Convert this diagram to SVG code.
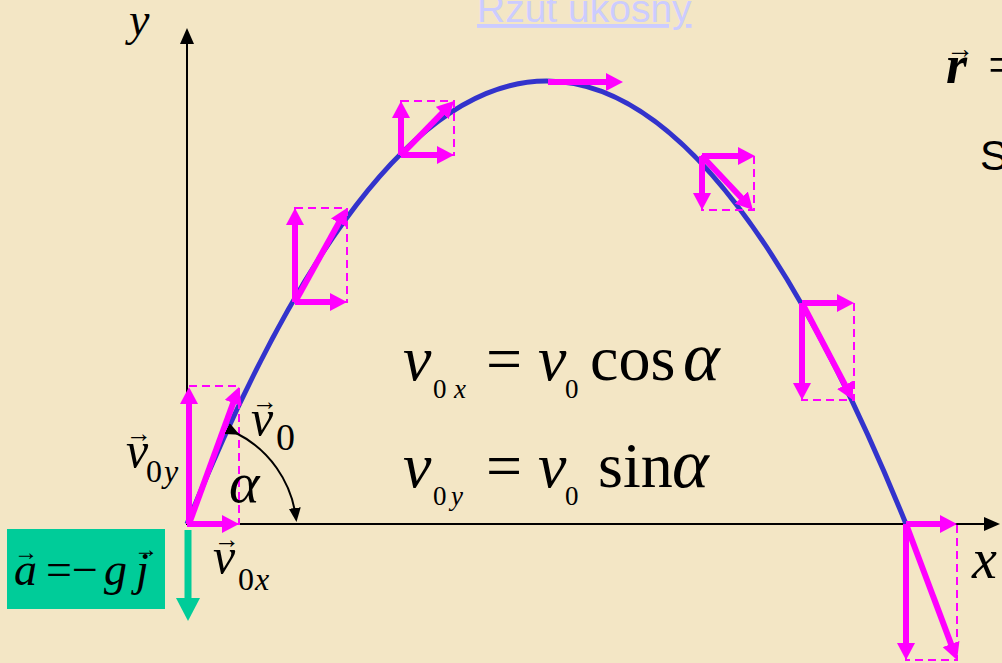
<svg xmlns="http://www.w3.org/2000/svg" width="1002" height="663" viewBox="0 0 1002 663">
<defs>
<style>
.mv{stroke:#FF00FF;stroke-width:6;fill:none;marker-end:url(#mh)}
.dr{stroke:#FF00FF;stroke-width:2;fill:none;stroke-dasharray:8,5}
.ax{stroke:#000;stroke-width:2;fill:none}
.tm{font-family:"Liberation Serif","Times New Roman",serif;fill:#000}
.it{font-style:italic}
.ar{font-family:"Liberation Serif",serif;fill:#000}
</style>
<marker id="mh" markerUnits="userSpaceOnUse" markerWidth="17" markerHeight="18" refX="7" refY="9" orient="auto" viewBox="0 0 17 18">
<path d="M0,0 L17,9 L0,18 z" fill="#FF00FF"/>
</marker>
<marker id="kh" markerUnits="userSpaceOnUse" markerWidth="16" markerHeight="14" refX="10" refY="7" orient="auto" viewBox="0 0 16 14">
<path d="M0,0 L16,7 L0,14 z" fill="#000"/>
</marker>
<marker id="sh" markerUnits="userSpaceOnUse" markerWidth="14" markerHeight="12" refX="10" refY="6" orient="auto" viewBox="0 0 14 12">
<path d="M0,0 L14,6 L0,12 z" fill="#000"/>
</marker>
</defs>
<rect width="1002" height="663" fill="#F3E6C5"/>
<g id="title"><text x="477" y="22" font-family="Liberation Sans,Arial,sans-serif" font-size="39" fill="#CCCCFF" text-decoration="underline">Rzut ukosny</text></g>
<g id="axes">
<line class="ax" x1="187" y1="525" x2="187" y2="34" marker-end="url(#kh)"/>
<line class="ax" x1="187" y1="524" x2="994" y2="524" marker-end="url(#kh)"/>
<text class="tm it" x="129" y="35" font-size="46">y</text>
<text class="tm it" x="972" y="578" font-size="56">x</text>
</g>
<g id="trajectory"><path d="M187,524 Q546.5,-362 906,524" stroke="#3333CC" stroke-width="5" fill="none"/></g>
<g id="connectors">
<rect class="dr" x="189" y="386" width="50" height="138"/>
<rect class="dr" x="295" y="208" width="52" height="94"/>
<rect class="dr" x="401" y="101" width="53" height="54"/>
<rect class="dr" x="702" y="156" width="52" height="54"/>
<rect class="dr" x="802" y="303" width="52" height="97"/>
<rect class="dr" x="906" y="524" width="51" height="136"/>
<line class="mv" x1="189" y1="524" x2="189" y2="397"/>
<line class="mv" x1="187" y1="524" x2="229" y2="524"/>
<line class="mv" x1="189" y1="524" x2="235.6" y2="396.4"/>
<line class="mv" x1="295" y1="302" x2="295" y2="218"/>
<line class="mv" x1="295" y1="302" x2="337" y2="302"/>
<line class="mv" x1="295" y1="302" x2="342.2" y2="216.7"/>
<line class="mv" x1="401" y1="155" x2="401" y2="111"/>
<line class="mv" x1="401" y1="155" x2="444" y2="155"/>
<line class="mv" x1="401" y1="155" x2="447" y2="108.1"/>
<line class="mv" x1="548" y1="82" x2="613" y2="82"/>
<line class="mv" x1="702" y1="156" x2="745" y2="156"/>
<line class="mv" x1="702" y1="156" x2="702" y2="200"/>
<line class="mv" x1="702" y1="156" x2="746.1" y2="202.7"/>
<line class="mv" x1="802" y1="303" x2="844" y2="303"/>
<line class="mv" x1="802" y1="303" x2="802" y2="390"/>
<line class="mv" x1="802" y1="303" x2="848.3" y2="391.1"/>
<line class="mv" x1="906" y1="524" x2="947" y2="524"/>
<line class="mv" x1="906" y1="524" x2="906" y2="650"/>
<line class="mv" x1="906" y1="524" x2="953.5" y2="650.6"/>
<path class="ax" d="M236,433 A110,110 0 0 1 296,518" marker-start="url(#sh)" marker-end="url(#sh)"/>
<line x1="188" y1="530" x2="188" y2="600" stroke="#00CC99" stroke-width="7"/>
<path d="M176,598 L200,598 L188,621 z" fill="#00CC99"/>
</g>
<g id="accel">
<rect x="7" y="529" width="158" height="80" fill="#00CC99"/>
<text class="tm it" x="14" y="585" font-size="46">a</text>
<text class="ar" x="14" y="560" font-size="24">→</text>
<text class="tm" x="46" y="585" font-size="46">=</text>
<text class="tm" x="72" y="585" font-size="46">−</text>
<text class="tm it" x="104" y="585" font-size="46">g</text>
<text class="tm it" x="136" y="585" font-size="46">j</text>
<text class="ar" x="134" y="557" font-size="24">→</text>
</g>
<g id="labels">
<text class="tm it" x="251" y="435" font-size="50">v</text>
<text class="ar" x="252" y="410" font-size="26">→</text>
<text class="tm" x="276" y="450" font-size="38">0</text>
<text class="tm it" x="126" y="467" font-size="50">v</text>
<text class="ar" x="126" y="442" font-size="26">→</text>
<text class="tm" x="146" y="482" font-size="32">0</text>
<text class="tm it" x="164" y="482" font-size="32">y</text>
<text class="tm it" x="213" y="573" font-size="50">v</text>
<text class="ar" x="214" y="548" font-size="26">→</text>
<text class="tm" x="238" y="590" font-size="32">0</text>
<text class="tm it" x="255" y="590" font-size="32">x</text>
<text class="tm it" x="229" y="502" font-size="58">α</text>
</g>
<g id="equations">
<text class="tm it" x="403" y="380" font-size="64">v</text>
<text class="tm" x="433" y="398" font-size="27">0</text>
<text class="tm it" x="454" y="398" font-size="27">x</text>
<text class="tm" x="486" y="380" font-size="64">=</text>
<text class="tm it" x="538" y="380" font-size="64">v</text>
<text class="tm" x="565" y="398" font-size="27">0</text>
<text class="tm" x="590" y="380" font-size="64">cos</text>
<text class="tm it" x="683" y="380" font-size="70">α</text>
<text class="tm it" x="403" y="487" font-size="64">v</text>
<text class="tm" x="433" y="505" font-size="27">0</text>
<text class="tm it" x="451" y="505" font-size="27">y</text>
<text class="tm" x="486" y="487" font-size="64">=</text>
<text class="tm it" x="538" y="487" font-size="64">v</text>
<text class="tm" x="565" y="505" font-size="27">0</text>
<text class="tm" x="598" y="487" font-size="64">sin</text>
<text class="tm it" x="672" y="487" font-size="70">α</text>
</g>
<g id="position">
<text class="tm it" x="946" y="83" font-size="54" font-weight="bold">r</text>
<text class="ar" x="946" y="58" font-size="28">→</text>
<text class="tm" x="988" y="83" font-size="54">=</text>
<text x="980" y="170" font-family="Liberation Sans,Arial,sans-serif" font-size="42" fill="#000">S</text>
</g>
</svg>
